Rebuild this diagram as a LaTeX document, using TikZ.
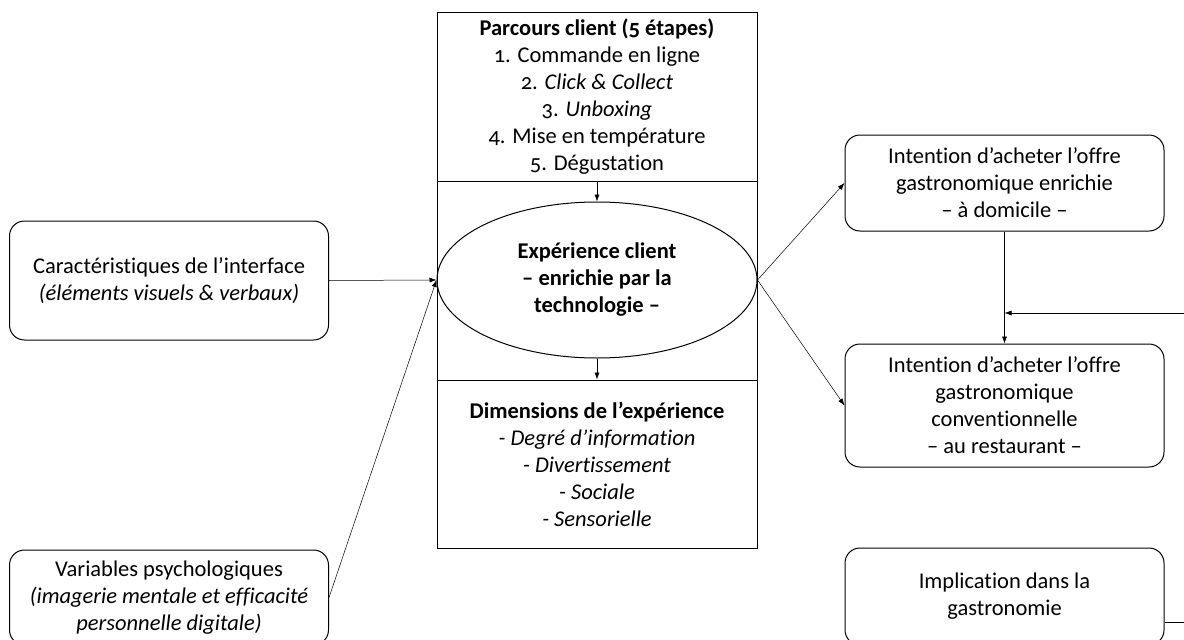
\documentclass[tikz,border=0pt]{standalone}
\usepackage{fontspec}
\setmainfont{Carlito}[Numbers=OldStyle, Ligatures=NoCommon]
\usetikzlibrary{arrows.meta,shapes.geometric}

\tikzset{
  boite/.style={draw, line width=1pt, rounded corners=15pt, minimum width=319pt, align=center, inner sep=0pt},
  cadre/.style={draw, line width=1pt, minimum width=320pt, align=center, inner sep=0pt},
  fleche/.style={-{Latex[length=7pt,width=5pt]}, line width=0.5pt}
}

\begin{document}
\begin{tikzpicture}[x=1pt, y=-1pt, font=\fontsize{22.5}{27}\selectfont]
      \clip (0,0) rectangle (1184,640);
      % colonne centrale
      \node[cadre, minimum height=169pt] (parcours) at (597,96.5)
        {\textbf{Parcours client (5 étapes)}\\1. Commande en ligne\\2. \textit{Click \& Collect}\\3. \textit{Unboxing}\\4. Mise en température\\5. Dégustation};
      \node[cadre, minimum height=199pt] (centre) at (597,280.5) {};
      \node[cadre, minimum height=168pt] (dims) at (597,464)
        {\textbf{Dimensions de l’expérience}\\\textit{- Degré d’information}\\\textit{- Divertissement}\\\textit{- Sociale}\\\textit{- Sensorielle}};
      \node[draw, ellipse, line width=1pt, minimum width=320pt, minimum height=156pt, inner sep=0pt, align=center, font=\fontsize{22.5}{27}\selectfont\bfseries] (exp) at (597,280)
        {Expérience client\\– enrichie par la\\technologie –};
      % gauche
      \node[boite, minimum height=119pt] (carac) at (169,280.5)
        {Caractéristiques de l’interface\\\textit{(éléments visuels \& verbaux)}};
      \node[boite, minimum height=95pt] (psy) at (169,597.5)
        {Variables psychologiques\\\textit{(imagerie mentale et efficacité}\\\textit{personnelle digitale)}};
      % droite
      \node[boite, minimum height=96pt] (dom) at (1004.5,183)
        {Intention d’acheter l’offre\\gastronomique enrichie\\– à domicile –};
      \node[boite, minimum height=123pt] (resto) at (1004.5,405.5)
        {Intention d’acheter l’offre\\gastronomique\\conventionnelle\\– au restaurant –};
      \node[boite, minimum height=97pt] (impl) at (1004.5,596.5)
        {Implication dans la\\gastronomie};
      \coordinate (bordA) at (1184,313);
      \coordinate (bordB) at (1184,622);
      \coordinate (jonc) at (dom.south |- bordA);
      \begin{scope}[fleche]
        \draw (parcours.south) to (exp.north);
        \draw (exp.south) to (dims.north);
        \draw (carac.east) to (exp.west);
        \draw (psy.east) to (exp.west);
        \draw (exp.east) to (dom.west);
        \draw (exp.east) to (resto.west);
        \draw (dom.south) to (resto.north);
        \draw (bordA) to (jonc);
      \end{scope}
      \draw[line width=0.5pt] (impl.east |- bordB) -- (bordB);
    \end{tikzpicture}
\end{document}
